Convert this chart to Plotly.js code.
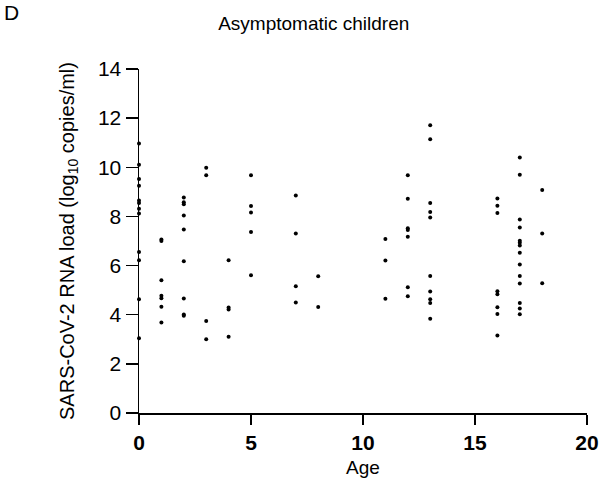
<!DOCTYPE html>
<html>
<head>
<meta charset="utf-8">
<script src="https://cdn.plot.ly/plotly-3.0.1.min.js"></script>
<style>html,body{margin:0;padding:0;background:#fff;}#chart{width:601px;height:492px;}</style>
</head>
<body>
<div id="chart"></div>
<script>
const ages = [0, 1, 2, 3, 4, 5, 7, 8, 11, 12, 13, 16, 17, 18];
const loads = [
  [10.97, 10.10, 9.52, 9.25, 8.65, 8.55, 8.31, 8.12, 6.55, 6.22, 4.63, 3.04],
  [7.06, 7.00, 5.40, 4.77, 4.67, 4.32, 3.68],
  [8.77, 8.58, 8.50, 8.04, 7.47, 6.18, 4.66, 4.01, 3.96],
  [9.98, 9.68, 3.74, 3.00],
  [6.22, 4.29, 4.21, 3.10],
  [9.68, 8.42, 8.16, 7.37, 5.61],
  [8.85, 7.31, 5.16, 4.50],
  [5.57, 4.31],
  [7.08, 6.21, 4.65],
  [9.68, 8.72, 7.52, 7.45, 7.17, 5.12, 4.75],
  [11.71, 11.14, 8.55, 8.18, 7.96, 5.58, 4.94, 4.63, 4.48, 3.84],
  [8.73, 8.43, 8.14, 4.95, 4.83, 4.30, 4.03, 3.15],
  [10.40, 9.70, 7.88, 7.55, 7.01, 6.93, 6.82, 6.52, 6.04, 5.58, 5.27, 4.48, 4.25, 4.02],
  [9.08, 7.31, 5.28]
];
const xTicks = [0, 5, 10, 15, 20];
const yTicks = [0, 2, 4, 6, 8, 10, 12, 14];

const xs = [], ys = [];
ages.forEach((a, i) => loads[i].forEach(v => { xs.push(a); ys.push(v); }));

const font = "Liberation Sans, Arial, sans-serif";
const trace = {
  x: xs, y: ys, type: 'scatter', mode: 'markers',
  marker: {color: '#000', size: 4},
  cliponaxis: false, hoverinfo: 'skip'
};
const layout = {
  width: 601, height: 492,
  margin: {l: 139, r: 14, t: 69, b: 79, pad: 0},
  paper_bgcolor: '#fff', plot_bgcolor: '#fff',
  showlegend: false,
  font: {family: font, color: '#000'},
  title: {text: 'Asymptomatic children', font: {size: 19, family: font, color: '#000'},
          x: 0.522, xref: 'container', xanchor: 'center', y: 0.953, yref: 'container', yanchor: 'middle'},
  xaxis: {
    range: [0, 20], tickvals: xTicks, ticktext: xTicks.map(String),
    showgrid: false, zeroline: false, showline: true, linecolor: '#000', linewidth: 1.5,
    ticks: 'outside', ticklen: 10, tickwidth: 1.5, tickcolor: '#000',
    tickfont: {size: 21, family: font, weight: 'bold', color: '#000'},
    title: {text: 'Age', font: {size: 19, family: font, color: '#000'}, standoff: 8}
  },
  yaxis: {
    range: [0, 14], tickvals: yTicks, ticktext: yTicks.map(String),
    showgrid: false, zeroline: false, showline: true, linecolor: '#000', linewidth: 1.5,
    ticks: 'outside', ticklen: 12, tickwidth: 1.5, tickcolor: '#000',
    tickfont: {size: 21, family: font, color: '#000'},
    title: {text: 'SARS-CoV-2 RNA load (log<sub>10</sub> copies/ml)', font: {size: 20, family: font, color: '#000'}, standoff: 18}
  },
  annotations: [{
    text: 'D', xref: 'paper', yref: 'paper', x: -0.305, y: 1.164,
    xanchor: 'left', yanchor: 'middle', showarrow: false,
    font: {size: 21, family: font, color: '#000'}
  }]
};
Plotly.newPlot('chart', [trace], layout, {displayModeBar: false, staticPlot: true});
</script>
</body>
</html>
